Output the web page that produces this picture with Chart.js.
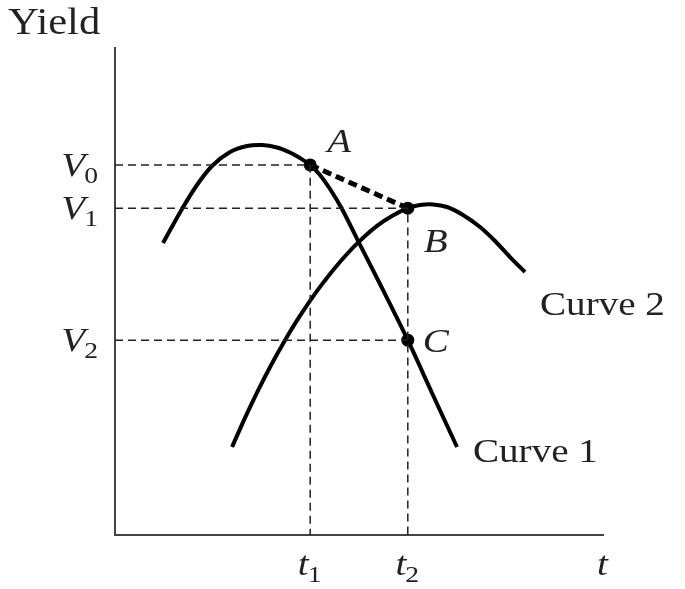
<!DOCTYPE html>
<html>
<head>
<meta charset="utf-8">
<script src="https://cdn.jsdelivr.net/npm/chart.js@4"></script>
<style>
  html, body { margin: 0; padding: 0; background: #fff; }
  #wrap { width: 685px; height: 589px; }
</style>
</head>
<body>
<div id="wrap"><canvas id="canvas" width="685" height="589"></canvas></div>
<script>
// times and yield levels of the marked points
const tTimes = [40, 60];          // t1, t2
const tNames = ["1", "2"];
const vLevels = [76, 67.1, 40];   // V0, V1, V2
const vNames = ["0", "1", "2"];

// curve 1 (rises, peaks before t1, falls through A and C)
const curve1X = [9.84, 13.73, 16.8, 19.88, 23.57, 27.05, 30.12, 33.2, 35.86, 37.91, 40, 42.01, 44.06, 46.52, 49.8, 54.3, 60, 64.96, 70.08];
const curve1Y = [59.96, 66.94, 71.87, 75.77, 78.64, 79.88, 80.08, 79.57, 78.54, 77.41, 76, 73.92, 71.05, 66.94, 60.4, 51.54, 40, 29.16, 18.07];

// curve 2 (rises through B, peaks just after t2)
const curve2X = [23.98, 26.64, 29.3, 31.97, 34.84, 37.3, 39.75, 42.01, 44.06, 46.72, 49.8, 53.69, 56.76, 60, 62.5, 65.16, 68.03, 71.31, 74.8, 77.87, 80.94, 84.02];
const curve2Y = [18.07, 24.05, 29.63, 34.85, 40.0, 44.06, 47.78, 50.94, 53.61, 56.78, 60.04, 63.46, 65.49, 67.1, 67.75, 67.88, 67.35, 65.71, 63.24, 60.37, 57.08, 54];

const toPts = (xs, ys) => xs.map((x, i) => ({ x: x, y: ys[i] }));

const A = { x: tTimes[0], y: vLevels[0] };
const B = { x: tTimes[1], y: vLevels[1] };
const C = { x: tTimes[1], y: vLevels[2] };

const guide = {
  borderColor: "#222",
  borderWidth: 1.5,
  borderDash: [8, 5],
  pointRadius: 0,
  tension: 0,
  showLine: true,
  clip: false,
};

const curve = {
  showLine: true,
  borderColor: "#000",
  borderWidth: 4,
  pointRadius: 0,
  tension: 0.3,
  clip: false,
};

const FONT = '"Liberation Serif", "Times New Roman", serif';

function text(ctx, str, x, y, size, italic, align) {
  ctx.save();
  ctx.font = (italic ? "italic " : "") + size + "px " + FONT;
  ctx.textBaseline = "alphabetic";
  ctx.fillStyle = "#222";
  const sx = 1.15;
  const w = ctx.measureText(str).width * sx;
  let left = x;
  if (align === "center") left = x - w / 2;
  if (align === "right") left = x - w;
  ctx.translate(left, y);
  ctx.scale(sx, 1);
  ctx.fillText(str, 0, 0);
  ctx.restore();
  return w;
}

// letter with subscript, e.g. V_0
function subText(ctx, base, sub, x, y, align) {
  ctx.save();
  ctx.font = "italic 34px " + FONT;
  const wb = ctx.measureText(base).width * 1.15;
  ctx.font = "24px " + FONT;
  const ws = ctx.measureText(sub).width * 1.15;
  ctx.restore();
  const total = wb + ws;
  let left = x;
  if (align === "center") left = x - total / 2;
  if (align === "right") left = x - total;
  text(ctx, base, left, y, 34, true);
  text(ctx, sub, left + wb - 1, y + 7, 24, false);
}

const labelsPlugin = {
  id: "labels",
  afterDatasetsDraw(chart) {
    const ctx = chart.ctx;
    const xs = chart.scales.x;
    const ys = chart.scales.y;
    const area = chart.chartArea;

    text(ctx, "Yield", 8, 34, 37, false);

    vLevels.forEach((v, i) => {
      subText(ctx, "V", vNames[i], area.left - 16, ys.getPixelForValue(v) + 11, "right");
    });
    tTimes.forEach((t, i) => {
      subText(ctx, "t", tNames[i], xs.getPixelForValue(t), area.bottom + 40, "center");
    });
    text(ctx, "t", area.right - 6, area.bottom + 40, 34, true);

    text(ctx, "A", xs.getPixelForValue(A.x) + 17, ys.getPixelForValue(A.y) - 13, 34, true);
    text(ctx, "B", xs.getPixelForValue(B.x) + 16, ys.getPixelForValue(B.y) + 44, 34, true);
    text(ctx, "C", xs.getPixelForValue(C.x) + 15, ys.getPixelForValue(C.y) + 12, 34, true);

    const e1 = curve1X.length - 1;
    text(ctx, "Curve 1", xs.getPixelForValue(curve1X[e1]) + 16, ys.getPixelForValue(curve1Y[e1]) + 15, 34, false);
    const e2 = curve2X.length - 1;
    text(ctx, "Curve 2", xs.getPixelForValue(curve2X[e2]) + 15, ys.getPixelForValue(curve2Y[e2]) + 43, 34, false);
  },
};

new Chart(document.getElementById("canvas").getContext("2d"), {
  type: "scatter",
  data: {
    datasets: [
      Object.assign({ data: [{ x: 0, y: vLevels[0] }, A, { x: A.x, y: 0 }] }, guide),
      Object.assign({ data: [{ x: 0, y: vLevels[1] }, B, { x: B.x, y: 0 }] }, guide),
      Object.assign({ data: [{ x: 0, y: vLevels[2] }, C] }, guide),
      {
        data: [A, B],
        showLine: true,
        borderColor: "#000",
        borderWidth: 5,
        borderDash: [9, 5],
        pointRadius: 0,
        clip: false,
      },
      Object.assign({ data: toPts(curve1X, curve1Y) }, curve),
      Object.assign({ data: toPts(curve2X, curve2Y) }, curve),
      {
        data: [A, B, C],
        showLine: false,
        pointRadius: 6.5,
        pointBackgroundColor: "#000",
        pointBorderWidth: 0,
        clip: false,
      },
    ],
  },
  options: {
    responsive: false,
    animation: false,
    layout: { padding: { left: 115, top: 48, right: 82, bottom: 54 } },
    scales: {
      x: {
        type: "linear",
        min: 0,
        max: 100,
        ticks: { display: false },
        grid: { display: false, drawTicks: false },
        border: { color: "#444", width: 2 },
      },
      y: {
        type: "linear",
        min: 0,
        max: 100,
        ticks: { display: false },
        grid: { display: false, drawTicks: false },
        border: { color: "#444", width: 2 },
      },
    },
    plugins: {
      legend: { display: false },
      tooltip: { enabled: false },
    },
  },
  plugins: [labelsPlugin],
});
</script>
</body>
</html>
